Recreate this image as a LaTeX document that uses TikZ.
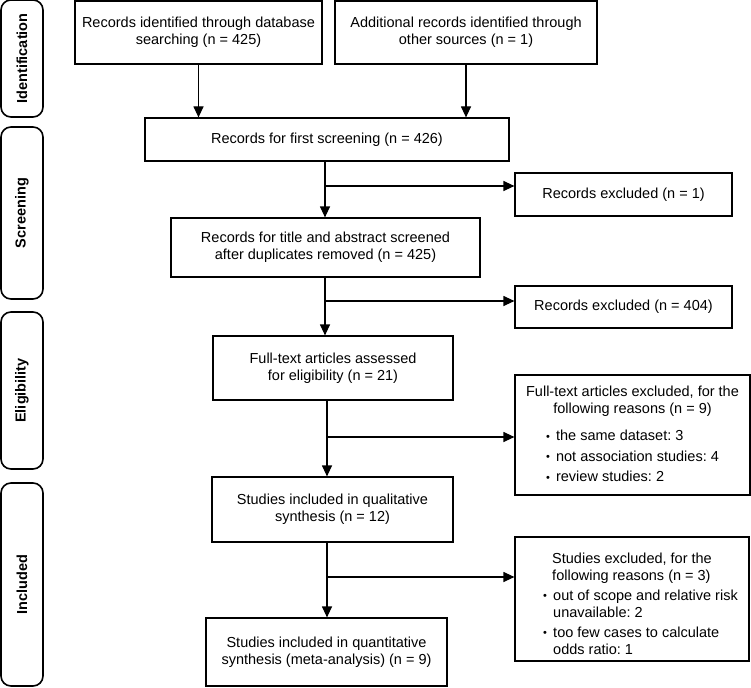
\documentclass[tikz,border=0pt]{standalone}
\usepackage{fontspec}
\setmainfont{Liberation Sans}
\usetikzlibrary{arrows.meta}

\newcommand{\flowfont}{\fontsize{14.5}{17}\selectfont\frenchspacing}
\newcommand{\bul}{\makebox[10pt][l]{\fontsize{11}{11}\selectfont\raisebox{0.6pt}{\textbullet}}}

\tikzset{
  box/.style={draw, line width=1.2pt, align=center, inner sep=0pt, font=\flowfont},
  sidebox/.style={draw, line width=1.6pt, rounded corners=10pt, rotate=90,
    inner sep=0pt, minimum height=42pt, font=\flowfont\bfseries},
  arr/.style={line width=1.2pt, -{Triangle[length=11pt,width=10pt]}}
}

\begin{document}
\begin{tikzpicture}[x=1pt, y=-1pt]

    \useasboundingbox (0,0) rectangle (751,687);

    % stage labels
    \node[sidebox, minimum width=117pt] (ident) at (22,58.5) {Identification};
    \node[sidebox, minimum width=172pt] (screen) at (22,213) {Screening};
    \node[sidebox, minimum width=157pt] (elig) at (22,390.5) {Eligibility};
    \node[sidebox, minimum width=203pt] (incl) at (22,584.5) {Included};

    % main column
    \node[box, minimum width=247pt, minimum height=63pt] (dbase) at (198.5,32.5)
        {Records identified through database\\searching (n = 425)};
    \node[box, minimum width=262pt, minimum height=63pt] (other) at (466,32.5)
        {Additional records identified through\\other sources (n = 1)};
    \node[box, minimum width=364pt, minimum height=43pt] (first) at (327,139.5)
        {Records for first screening (n = 426)};
    \node[box, minimum width=309pt, minimum height=59pt] (title) at (325.5,247.5)
        {Records for title and abstract screened\\after duplicates removed (n = 425)};
    \node[box, minimum width=240pt, minimum height=64pt] (fulltext) at (333,368)
        {Full-text articles assessed\\for eligibility (n = 21)};
    \node[box, minimum width=241pt, minimum height=65pt] (qual) at (332.5,509.5)
        {Studies included in qualitative\\synthesis (n = 12)};
    \node[box, minimum width=241pt, minimum height=68pt] (quant) at (326.5,652)
        {Studies included in quantitative\\synthesis (meta-analysis) (n = 9)};

    % excluded column
    \node[box, minimum width=217pt, minimum height=43pt] (ex1) at (623.5,194.5)
        {Records excluded (n = 1)};
    \node[box, minimum width=217pt, minimum height=42pt] (ex2) at (623.5,307)
        {Records excluded (n = 404)};
    \node[box, minimum width=235pt, minimum height=120pt] (ex3) at (632.5,435)
        {\rule{0pt}{14pt}Full-text articles excluded, for the\\following reasons (n = 9)\\[10pt]
         \begin{tabular}[t]{@{}l@{}}
         \bul the same dataset: 3\\[3.5pt]
         \bul not association studies: 4\\[3.5pt]
         \bul review studies: 2
         \end{tabular}};
    \node[box, minimum width=234pt, minimum height=124pt] (ex4) at (632,599)
        {\begin{tabular}[t]{@{\hspace{17pt}}l@{}}
         \rule{0pt}{25pt}\hspace{9pt}Studies excluded, for the\\
         \hspace{9pt}following reasons (n = 3)\\[3pt]
         \bul out of scope and relative risk\\
         \hspace{10pt}unavailable: 2\\[3pt]
         \bul too few cases to calculate\\
         \hspace{10pt}odds ratio: 1
         \end{tabular}};

    % branch points
    \coordinate (s1) at (325,186);
    \coordinate (s2) at (325,301);
    \coordinate (s3) at (327,437);
    \coordinate (s4) at (327,577);

    \draw[arr] (dbase.south) -- (dbase.south |- first.north);
    \draw[arr] (other.south) -- (other.south |- first.north);

    \draw[arr] (s1 |- first.south) -- (s1 |- title.north);
    \draw[arr] (s1) -- (s1 -| ex1.west);

    \draw[arr] (s2 |- title.south) -- (s2 |- fulltext.north);
    \draw[arr] (s2) -- (s2 -| ex2.west);

    \draw[arr] (s3 |- fulltext.south) -- (s3 |- qual.north);
    \draw[arr] (s3) -- (s3 -| ex3.west);

    \draw[arr] (s4 |- qual.south) -- (s4 |- quant.north);
    \draw[arr] (s4) -- (s4 -| ex4.west);

\end{tikzpicture}
\end{document}
